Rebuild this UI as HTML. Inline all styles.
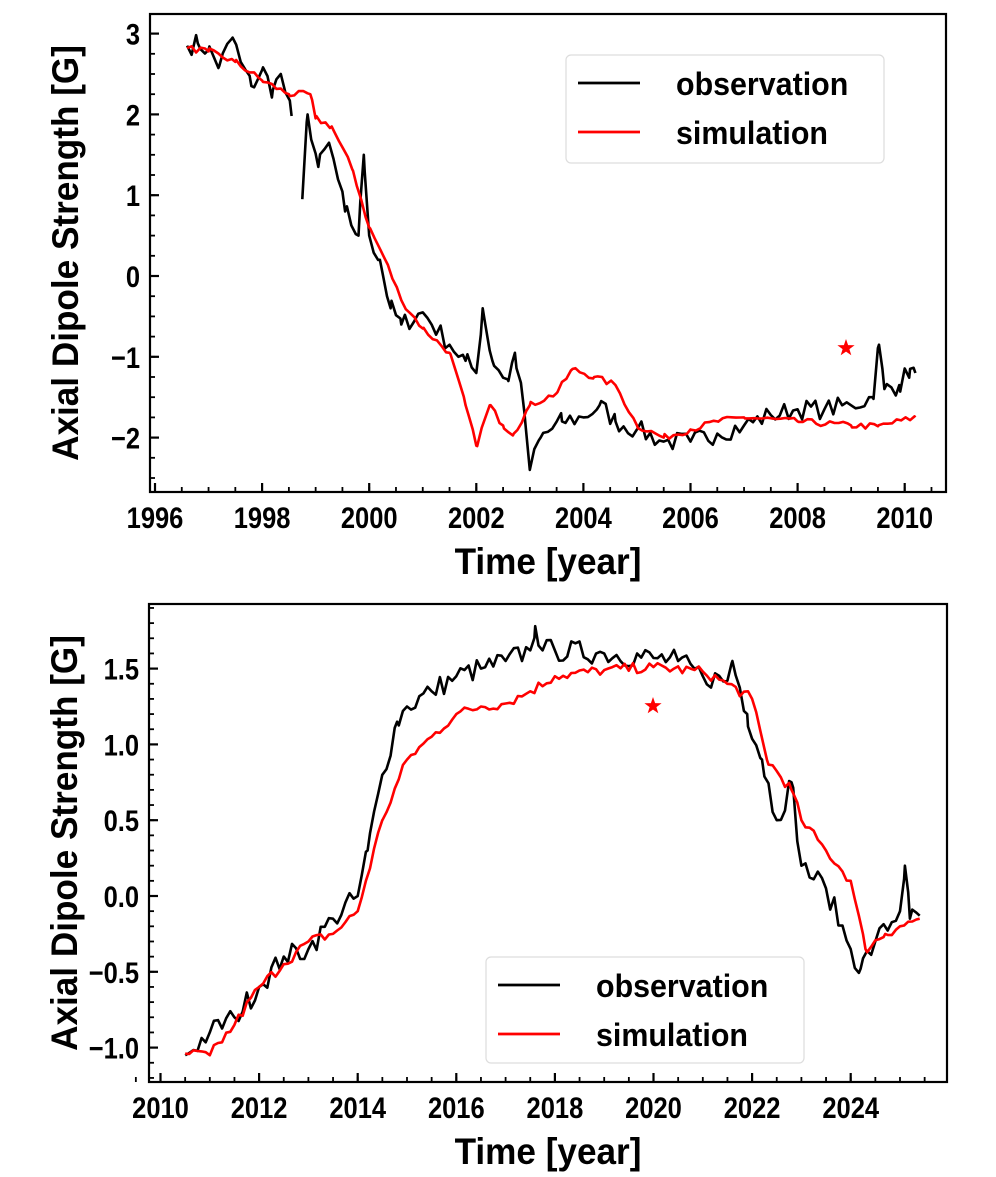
<!DOCTYPE html>
<html><head><meta charset="utf-8"><style>body{margin:0;background:#fff}svg{display:block}text{font-family:"Liberation Sans",Arial,sans-serif;font-weight:bold}</style></head>
<body>
<svg id="s" width="996" height="1177" xmlns="http://www.w3.org/2000/svg"></svg>
<script>
const S=document.getElementById('s');let h='';
let seed=7;function rnd(){seed=(seed*16807)%2147483647;return seed/2147483647-0.5;}
function interp(pts,t){for(let i=0;i<pts.length-1;i++){if(t>=pts[i][0]&&t<=pts[i+1][0]){const f=(t-pts[i][0])/(pts[i+1][0]-pts[i][0]);return pts[i][1]+f*(pts[i+1][1]-pts[i][1]);}}return pts[pts.length-1][1];}
function series(pts,X,Y,noise,col,step){let d='';const t0=pts[0][0],t1=pts[pts.length-1][0];let first=true;
 let ts=[];for(let t=t0;t<=t1+1e-9;t+=step)ts.push(t);pts.forEach(p=>ts.push(p[0]));ts.sort((a,b)=>a-b);
 ts.forEach(t=>{let v=interp(pts,t);const isKey=pts.some(p=>Math.abs(p[0]-t)<1e-6);if(!isKey)v+=rnd()*noise;d+=(first?'M':'L')+X(t).toFixed(1)+','+Y(v).toFixed(1);first=false;});
 h+=`<path d="${d}" fill="none" stroke="${col}" stroke-width="2.6" stroke-linejoin="round"/>`;}
function T(x,y,s,txt,anchor,sx){return `<text transform="translate(${x},${y}) scale(${sx},1)" font-size="${s}" text-anchor="${anchor}">${txt}</text>`;}
function axes(L,R,Tp,B,X,Y,xt,yt,yfmt,xlab,minorX,minorY){
 h+=`<rect x="${L}" y="${Tp}" width="${R-L}" height="${B-Tp}" fill="none" stroke="#000" stroke-width="2.2"/>`;
 xt.forEach(v=>{const x=X(v);h+=`<line x1="${x}" y1="${B}" x2="${x}" y2="${B-9}" stroke="#000" stroke-width="2.2"/>`+T(x,B+36,30,v,'middle',0.85);});
 minorX.forEach(v=>{const x=X(v);h+=`<line x1="${x}" y1="${B}" x2="${x}" y2="${B-5}" stroke="#000" stroke-width="1.8"/>`;});
 yt.forEach(v=>{const y=Y(v);h+=`<line x1="${Tp?L:L}" y1="${y}" x2="${L+9}" y2="${y}" stroke="#000" stroke-width="2.2"/>`+T(L-10,y+11,30,yfmt(v),'end',0.85);});
 minorY.forEach(v=>{const y=Y(v);h+=`<line x1="${L}" y1="${y}" x2="${L+5}" y2="${y}" stroke="#000" stroke-width="1.8"/>`;});
 h+=T((L+R)/2,B+82,37,xlab,'middle',0.95);
 h+=`<text transform="translate(${L-72},${(Tp+B)/2}) rotate(-90) scale(0.95,1)" font-size="37" text-anchor="middle">Axial Dipole Strength [G]</text>`;}
function legend(x,y,w,hh){h+=`<rect x="${x}" y="${y}" width="${w}" height="${hh}" rx="5" fill="#fff" stroke="#ddd" stroke-width="1.2"/>`;
 h+=`<line x1="${x+12}" y1="${y+28}" x2="${x+74}" y2="${y+28}" stroke="#000" stroke-width="2.8"/>`+T(x+110,y+40,32,'observation','start',0.95);
 h+=`<line x1="${x+12}" y1="${y+77}" x2="${x+74}" y2="${y+77}" stroke="red" stroke-width="2.8"/>`+T(x+110,y+89,32,'simulation','start',0.95);}
function star(cx,cy,r){let p='';for(let i=0;i<10;i++){const a=-Math.PI/2+i*Math.PI/5,rr=i%2?r*0.4:r;p+=(cx+rr*Math.cos(a)).toFixed(1)+','+(cy+rr*Math.sin(a)).toFixed(1)+' ';}h+=`<polygon points="${p}" fill="red"/>`;}
// TOP
{const X=t=>155+(t-1996)*53.55,Y=v=>276-v*80.8;
 const mx=[],my=[];for(let t=1996;t<=2010.8;t+=0.5)mx.push(t);for(let v=-2.5;v<=3.01;v+=0.25)my.push(v);
 axes(150,946,14,492,X,Y,[1996,1998,2000,2002,2004,2006,2008,2010],[3,2,1,0,-1,-2],v=>v<0?'\u2212'+(-v):v,'Time [year]',mx,my);
 const o1=[[1996.6,2.85],[1996.8,2.88],[1997.0,2.8],[1997.2,2.6],[1997.45,2.95],[1997.6,2.65],[1997.8,2.35],[1998.0,2.55],[1998.2,2.3],[1998.35,2.5],[1998.55,1.98]];
 const o2=[[1998.75,0.95],[1998.85,2.0],[1999.05,1.35],[1999.25,1.65],[1999.55,0.8],[1999.8,0.5],[1999.9,1.5],[2000.0,0.5],[2000.2,0.2],[2000.4,-0.4],[2000.6,-0.6],[2001.0,-0.45],[2001.5,-0.85],[2001.8,-1.05],[2002.0,-1.2],[2002.12,-0.4],[2002.3,-1.05],[2002.6,-1.3],[2002.72,-0.95],[2002.9,-1.7],[2003.0,-2.4],[2003.2,-2.0],[2003.6,-1.8],[2004.0,-1.75],[2004.3,-1.6],[2004.6,-1.8],[2005.0,-1.9],[2005.5,-2.05],[2006.0,-2.05],[2006.5,-1.95],[2007,-1.85],[2007.5,-1.72],[2008,-1.65],[2008.5,-1.65],[2009,-1.6],[2009.4,-1.5],[2009.52,-0.85],[2009.62,-1.4],[2009.9,-1.35],[2010.1,-1.15],[2010.2,-1.2]];
 series(o1,X,Y,0.25,'#000',1/12);series(o2,X,Y,0.25,'#000',1/12);
 const s1=[[1996.6,2.82],[1997,2.78],[1997.5,2.65],[1998,2.42],[1998.5,2.25],[1998.9,2.25],[1999.0,1.95],[1999.3,1.85],[1999.7,1.3],[2000.0,0.6],[2000.3,0.2],[2000.6,-0.3],[2001.0,-0.65],[2001.5,-0.95],[2001.8,-1.6],[2002.0,-2.1],[2002.25,-1.6],[2002.5,-1.85],[2002.7,-1.95],[2003,-1.6],[2003.5,-1.45],[2003.8,-1.15],[2004.2,-1.25],[2004.6,-1.35],[2005.0,-1.85],[2005.5,-2.0],[2006,-1.9],[2006.5,-1.8],[2007,-1.75],[2008,-1.8],[2009,-1.85],[2009.5,-1.86],[2010.2,-1.75]];
 series(s1,X,Y,0.08,'red',1/12);
 star(846,348,9);legend(566,55,318,108);}
// BOTTOM
{const X=t=>160.5+(t-2010)*49.3,Y=v=>896-v*151.6;
 const mx=[],my=[];for(let t=2009.5;t<=2025.9;t+=0.5)mx.push(t);for(let v=-1.2;v<=1.91;v+=0.1)my.push(v);
 axes(149,947,604,1082,X,Y,[2010,2012,2014,2016,2018,2020,2022,2024],[1.5,1.0,0.5,0.0,-0.5,-1.0],v=>(v<0?'\u2212':'')+Math.abs(v).toFixed(1),'Time [year]',mx,my);
 const o=[[2010.5,-1.05],[2011,-0.9],[2011.5,-0.8],[2012,-0.6],[2012.5,-0.4],[2013,-0.35],[2013.5,-0.15],[2014,0.0],[2014.2,0.3],[2014.5,0.8],[2014.8,1.15],[2015,1.25],[2015.5,1.35],[2016,1.45],[2016.5,1.5],[2017,1.55],[2017.5,1.62],[2017.6,1.78],[2017.75,1.62],[2018,1.62],[2019,1.6],[2020,1.57],[2020.5,1.55],[2021,1.45],[2021.5,1.42],[2021.6,1.55],[2021.9,1.2],[2022.2,0.9],[2022.5,0.5],[2022.8,0.75],[2023,0.2],[2023.5,0.05],[2024,-0.35],[2024.2,-0.48],[2024.5,-0.3],[2025,-0.1],[2025.1,0.2],[2025.2,-0.15],[2025.4,-0.13]];
 series(o,X,Y,0.15,'#000',1/12);
 const s=[[2010.5,-1.04],[2011,-1.05],[2011.5,-0.85],[2012,-0.6],[2012.5,-0.45],[2013,-0.3],[2013.5,-0.25],[2014,-0.1],[2014.5,0.5],[2015,0.9],[2015.5,1.05],[2016,1.2],[2016.5,1.25],[2017,1.27],[2017.5,1.35],[2018,1.45],[2019,1.49],[2020,1.51],[2021,1.48],[2021.5,1.4],[2022,1.3],[2022.3,0.9],[2022.8,0.7],[2023,0.5],[2023.5,0.3],[2024,0.1],[2024.3,-0.35],[2024.7,-0.25],[2025,-0.2],[2025.4,-0.15]];
 series(s,X,Y,0.07,'red',1/12);
 star(653,706,9);legend(486,957,318,106);}
S.innerHTML=h;
</script>
</body></html>
